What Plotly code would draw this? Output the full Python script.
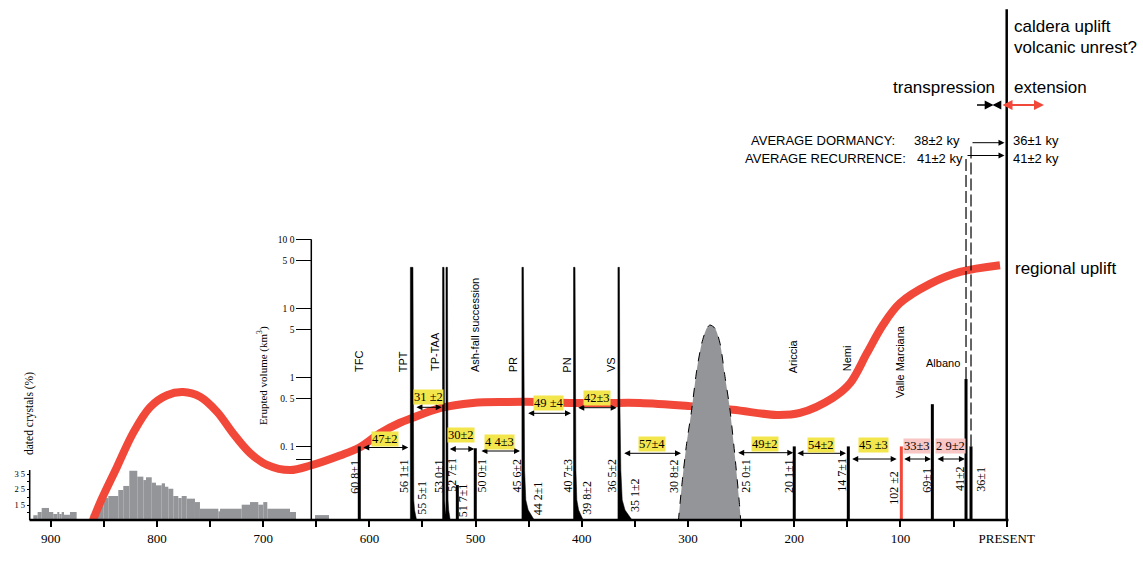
import math
import plotly.graph_objects as go

# ---------------- DATA ----------------
# histogram of dated crystals (%), bins in ka
hist_start_ka = [916.4, 912.3, 908.5, 901.6, 897.6, 893.8, 891.9, 889.7, 887.5, 881.9,
                 862.4, 859.0, 856.7, 853.6, 850.5, 845.8, 836.4, 831.7, 826.0, 818.5,
                 812.8, 810.3, 804.9, 800.9, 795.5, 792.4, 789.3, 784.6, 779.9, 776.7,
                 772.0, 764.2, 759.5, 742.2, 740.6, 720.2, 712.4, 704.6, 699.9, 696.1,
                 674.7, 651.2]
hist_end_ka = [912.3, 908.5, 901.6, 897.6, 893.8, 891.9, 889.7, 887.5, 881.9, 875.6,
               859.0, 856.7, 853.6, 850.5, 845.8, 836.4, 831.7, 826.0, 818.5, 812.8,
               810.3, 804.9, 800.9, 795.5, 792.4, 789.3, 784.6, 779.9, 776.7, 772.0,
               764.2, 759.5, 742.2, 740.6, 720.2, 712.4, 704.6, 699.9, 696.1, 674.7,
               669.1, 638.0]
hist_pct = [8.4, 10.5, 13.1, 10.5, 9.2, 10.5, 9.2, 10.5, 8.7, 10.5,
            9.0, 12.0, 15.2, 17.8, 19.5, 20.8, 24.7, 27.3, 37.1, 33.3,
            31.1, 32.9, 29.4, 27.7, 29.0, 26.8, 25.5, 20.8, 19.5, 20.8,
            19.1, 16.9, 12.6, 10.9, 12.6, 15.2, 16.9, 15.2, 16.9, 12.6,
            10.5, 8.5]

# regional uplift curve (relative units 0-100)
uplift_age_ka = [862.0, 853.6, 837.6, 822.5, 806.5, 790.5, 775.4, 759.4, 743.4, 728.4,
                 712.4, 696.4, 674.7, 655.0, 627.7, 608.9, 590.0, 571.2, 559.9, 533.5,
                 502.5, 470.5, 439.4, 408.4, 376.4, 345.3, 298.2, 257.7, 216.3, 194.6,
                 163.6, 147.5, 131.5, 116.5, 100.5, 72.2, 44.0, 6.3]
uplift_rel = [-1.0, 3.3, 10.2, 16.7, 21.7, 24.0, 24.6, 23.7, 20.8, 16.7,
              12.9, 10.6, 9.6, 10.5, 12.4, 14.0, 16.7, 18.7, 19.6, 21.5,
              22.5, 22.7, 22.7, 22.5, 22.5, 22.5, 21.9, 21.2, 20.2, 20.6,
              23.5, 26.3, 32.1, 37.5, 41.7, 45.4, 47.7, 49.0]

# eruptions drawn as bars (ka, km3)
bar_age_ka = [609.5, 517.2, 500.3, 200.0, 149.1, 70.0, 38.3, 33.6]
bar_vol_km3 = [0.1, 0.0275, 0.094, 0.1, 0.1, 0.41, 0.95, 0.1]
red_bar_age_ka = [99.2]
red_bar_vol_km3 = [0.1]

# large eruptions drawn as spikes (ka, km3)
spike_age_ka = [560.2, 530.4, 527.2, 455.7, 407.1, 365.3]
spike_vol_km3 = [39.7, 39.7, 39.7, 39.7, 39.7, 39.7]

# 308-250 ka dome of activity
dome_age_ka = [309.2, 306.0, 301.3, 296.6, 291.8, 287.1, 282.4, 279.3, 274.6, 269.9,
               265.2, 260.5, 255.8, 251.1, 250.4]
dome_vol_km3 = [0.008, 0.026, 0.111, 0.337, 1.28, 3.14, 5.18, 5.78, 5.18, 3.14,
                1.03, 0.337, 0.071, 0.0119, 0.008]

# age labels
age_labels = ["60 8±1", "56 1±1", "55 5±1", "53 0±1", "52 7±1", "51 7±1", "50 0±1",
              "45 6±2", "44 2±1", "40 7±3", "39 8±2", "36 5±2", "35 1±2", "30 8±2",
              "25 0±1", "20 1±1", "14 7±1", "102 ±2", "69±1", "41±2", "36±1"]
eruption_names = ["TFC", "TPT", "TP-TAA", "Ash-fall succession", "PR", "PN", "VS",
                  "Ariccia", "Nemi", "Valle Marciana"]

# repose intervals (ka)
interval_labels = ["47±2", "31 ±2", "30±2", "4 4±3", "49 ±4", "42±3", "57±4",
                   "49±2", "54±2", "45 ±3", "33±3", "2 9±2"]
interval_start_ka = [607.2, 557.1, 525.7, 495.9, 451.9, 404.8, 361.5, 254.2, 198.4, 146.9, 97.9, 66.6]
interval_end_ka = [563.4, 531.9, 501.2, 458.2, 410.2, 367.2, 306.6, 200.9, 151.3, 103.6, 71.3, 39.3]

x_tickvals = [900, 850, 800, 750, 700, 650, 600, 550, 500, 450, 400, 350, 300, 250, 200, 150, 100, 50, 0]
x_ticktext = ["900", "", "800", "", "700", "", "600", "", "500", "", "400", "", "300", "",
              "200", "", "100", "", "PRESENT"]
vol_tickvals = [100, 50, 10, 5, 1, 0.5, 0.1, 0.065]
vol_ticktext = ["10 0", "5 0", "1 0", "5", "1", "0. 5", "0. 1", ""]
pct_tickvals = [5, 10, 15, 20, 25, 30, 35]
pct_ticktext = ["", "", "1 5", "", "2 5", "", "3 5"]

# ---------------- STYLE / LAYOUT HELPERS ----------------
W, H = 1143, 567
PLOT_H = 520
K = 1.0622          # px per ka
X0 = 1006.7         # px of present
RED = "#F2483A"
GREY = "#939598"
YEL = "#F3E64C"
PINK = "#F8C6C4"
SERIF = "Liberation Serif"
SANS = "Liberation Sans"


def ka(px):
    return (X0 - px) / K


def up(py):
    return (PLOT_H - py) / 5.2


def vol(py):
    return 10 ** ((377.5 - py) / 68.9)


fig = go.Figure()

# histogram
fig.add_trace(go.Bar(
    x=[(a + b) / 2 for a, b in zip(hist_start_ka, hist_end_ka)],
    y=hist_pct,
    width=[a - b for a, b in zip(hist_start_ka, hist_end_ka)],
    marker=dict(color=GREY, line=dict(width=0)),
    xaxis="x", yaxis="y", hoverinfo="skip", showlegend=False))

# regional uplift curve
fig.add_trace(go.Scatter(
    x=uplift_age_ka, y=uplift_rel, mode="lines",
    line=dict(color=RED, width=8, shape="spline", smoothing=1.0),
    xaxis="x", yaxis="y2", hoverinfo="skip", showlegend=False))

# dome
fig.add_trace(go.Scatter(
    x=dome_age_ka, y=dome_vol_km3, mode="lines", fill="toself", fillcolor=GREY,
    line=dict(color="black", width=1, dash="dash", shape="spline", smoothing=0.7),
    xaxis="x", yaxis="y3", hoverinfo="skip", showlegend=False))

# spikes
spike_line_px = [2.6, 1.5, 1.5, 1.5, 1.5, 1.5]
spike_tail_px = [4, 3, 3, 12, 9, 14]
tail_frac = [0.03, 0.1, 0.2, 0.4, 0.65, 1.0]
tail_vol = [0.47, 0.045, 0.0167, 0.0119, 0.0101, 0.008]
sx, sy = [], []
for a, v, lw, tw in zip(spike_age_ka, spike_vol_km3, spike_line_px, spike_tail_px):
    hl = lw / 2 / K
    tk = tw / K
    sx += [a + hl, a + hl, a - hl] + [a - hl - f * tk for f in tail_frac] + [None]
    sy += [0.008, v, v] + tail_vol + [None]
fig.add_trace(go.Scatter(
    x=sx, y=sy, mode="lines", fill="toself", fillcolor="black",
    line=dict(color="black", width=0.5),
    xaxis="x", yaxis="y3", hoverinfo="skip", showlegend=False))

# bars
bx, by = [], []
for a, v in zip(bar_age_ka, bar_vol_km3):
    bx += [a, a, None]
    by += [0.005, v, None]
fig.add_trace(go.Scatter(x=bx, y=by, mode="lines", line=dict(color="black", width=3),
                         xaxis="x", yaxis="y3", hoverinfo="skip", showlegend=False))
rx, ry = [], []
for a, v in zip(red_bar_age_ka, red_bar_vol_km3):
    rx += [a, a, None]
    ry += [0.005, v, None]
fig.add_trace(go.Scatter(x=rx, y=ry, mode="lines", line=dict(color=RED, width=3),
                         xaxis="x", yaxis="y3", hoverinfo="skip", showlegend=False))

# dashed connectors from the two youngest eruptions
for a, v, py in [(bar_age_ka[6], bar_vol_km3[6], 155.5), (bar_age_ka[7], bar_vol_km3[7], 142.7)]:
    fig.add_trace(go.Scatter(x=[a, a], y=[v, vol(py)], mode="lines",
                             line=dict(color="black", width=1.2, dash="12px,4px"),
                             xaxis="x", yaxis="y3", hoverinfo="skip", showlegend=False))

ann = []


def text(px, py, s, size, family, angle=0, xanchor="center", yanchor="middle", **kw):
    ann.append(dict(x=ka(px), y=up(py), xref="x", yref="y2", text=s, showarrow=False,
                    font=dict(size=size, family=family, color="black"), textangle=angle,
                    xanchor=xanchor, yanchor=yanchor, **kw))


def arrow(x0, x1, py, both=True, color="black", width=1, size=1.2):
    ann.append(dict(x=x1, y=up(py), ax=x0, ay=up(py), xref="x", yref="y2",
                    axref="x", ayref="y2", showarrow=True, arrowhead=2, arrowsize=size,
                    arrowwidth=width, arrowcolor=color,
                    arrowside="end+start" if both else "end", text="",
                    standoff=0, startstandoff=0))


# age labels (rotated)
age_pos = [(355, 476.7), (403.3, 475.8), (421.7, 498), (438.3, 475.8), (451.7, 475),
           (463.3, 500), (481.7, 475.8), (516.7, 475.8), (538.3, 498), (567.7, 475.8),
           (586.7, 498), (611.7, 475.8), (635, 495), (673.3, 475.8), (746, 475.8),
           (788.3, 475.8), (841.7, 475), (893.3, 487.5), (926.7, 480), (960, 479), (980.7, 479)]
for s, (px, py) in zip(age_labels, age_pos):
    text(px, py, s, 12, SERIF, angle=-90)

# eruption names
name_pos = [(358.3, 361.7), (403.3, 362), (435, 352), (475, 325), (513.3, 365),
            (566.7, 365), (611, 365), (793.3, 356), (846.7, 358.5), (899.3, 361.7)]
for s, (px, py) in zip(eruption_names, name_pos):
    text(px, py, s, 11, SANS, angle=-90)
text(942.5, 363.3, "Albano", 11, SANS)

# intervals
arrow_py = [447.5, 407.3, 449, 451, 413.3, 407.7, 453.3, 452.7, 453.3, 459, 459, 459]
label_py = [438.7, 397, 435, 442, 402.7, 398, 444, 444, 445.3, 445, 445.8, 445.8]
for i, s in enumerate(interval_labels):
    a0, a1 = interval_start_ka[i], interval_end_ka[i]
    arrow(a0, a1, arrow_py[i])
    ann.append(dict(x=(a0 + a1) / 2, y=up(label_py[i]), xref="x", yref="y2", text=s,
                    showarrow=False, bgcolor=YEL if i < 10 else PINK, borderpad=0,
                    font=dict(size=12.5, family=SERIF, color="black"),
                    xanchor="center", yanchor="middle"))

# right-hand annotations
text(1011.7, 26, "caldera uplift", 17, SANS, xanchor="left")
text(1011.7, 47.7, "volcanic unrest?", 17, SANS, xanchor="left")
text(997.3, 87.3, "transpression", 17, SANS, xanchor="right")
text(1012, 87.3, "extension", 17, SANS, xanchor="left")
text(1013, 268, "regional uplift", 17, SANS, xanchor="left")
text(749, 140, "AVERAGE DORMANCY:", 13, SANS, xanchor="left")
text(911.5, 140, "38±2 ky", 13, SANS, xanchor="left")
text(743, 158.3, "AVERAGE RECURRENCE:", 13, SANS, xanchor="left")
text(914.5, 158.3, "41±2 ky", 13, SANS, xanchor="left")
text(1010.5, 140, "36±1 ky", 13, SANS, xanchor="left")
text(1010.5, 158.3, "41±2 ky", 13, SANS, xanchor="left")
arrow(bar_age_ka[7], ka(1004.5), 142.7, both=False)
arrow(bar_age_ka[6], ka(1004.5), 155.5, both=False)
arrow(ka(975.5), ka(993.5), 105, both=False, width=1.6, size=1.1)
arrow(ka(1000), ka(992.5), 105, both=False, width=1.6, size=1.1)
arrow(ka(1001), ka(1044), 105, both=True, color=RED, width=2, size=1.0)

# axis titles
text(520, 558, "Age (ka)", 11, SERIF)
text(29, 414, "dated crystals (%)", 11.5, SERIF, angle=-90)
text(262, 376, "Erupted volume (km<sup>3</sup>)", 11, SERIF, angle=-90)

shapes = [
    dict(type="line", xref="x", yref="paper", x0=ka(29.5), x1=ka(1008.5), y0=0, y1=0,
         line=dict(color="black", width=2.5)),
    dict(type="line", xref="x", yref="paper", x0=0, x1=0, y0=0, y1=1 - 9.3 / PLOT_H,
         line=dict(color="black", width=2.5)),
    dict(type="line", xref="paper", yref="paper", x0=311.3 / W, x1=311.3 / W, y0=0,
         y1=1 - 239.3 / PLOT_H, line=dict(color="black", width=1.5)),
    dict(type="line", xref="paper", yref="paper", x0=29.7 / W, x1=29.7 / W, y0=0,
         y1=1 - 470 / PLOT_H, line=dict(color="black", width=1.5)),
]

fig.update_layout(
    width=W, height=H,
    margin=dict(l=0, r=0, t=0, b=H - PLOT_H, pad=0),
    paper_bgcolor="white", plot_bgcolor="white",
    showlegend=False, barmode="overlay",
    xaxis=dict(range=[ka(0), ka(W)], showgrid=False, zeroline=False, showline=False,
               tickmode="array", tickvals=x_tickvals, ticktext=x_ticktext,
               ticks="outside", ticklen=6, tickwidth=1.5, tickcolor="black",
               tickfont=dict(family=SERIF, size=13, color="black"), anchor="y"),
    yaxis=dict(range=[15 - 15 / 1.55, 15 + 505 / 1.55], anchor="free", position=29.7 / W,
               showgrid=False, zeroline=False, showline=False,
               tickmode="array", tickvals=pct_tickvals, ticktext=pct_ticktext,
               ticks="outside", ticklen=3, tickwidth=1, tickcolor="black",
               tickfont=dict(family=SERIF, size=8.5, color="black")),
    yaxis2=dict(range=[0, 100], overlaying="y", visible=False, anchor="x"),
    yaxis3=dict(type="log", range=[-(PLOT_H - 377.5) / 68.9, 377.5 / 68.9], overlaying="y",
                anchor="free", position=311.3 / W, side="left",
                showgrid=False, zeroline=False, showline=False,
                tickmode="array", tickvals=vol_tickvals, ticktext=vol_ticktext,
                ticks="outside", ticklen=15, tickwidth=1.3, tickcolor="black",
                tickfont=dict(family=SERIF, size=9.5, color="black")),
    annotations=ann, shapes=shapes,
)

fig.write_html("out.html", config={"displayModeBar": False})
